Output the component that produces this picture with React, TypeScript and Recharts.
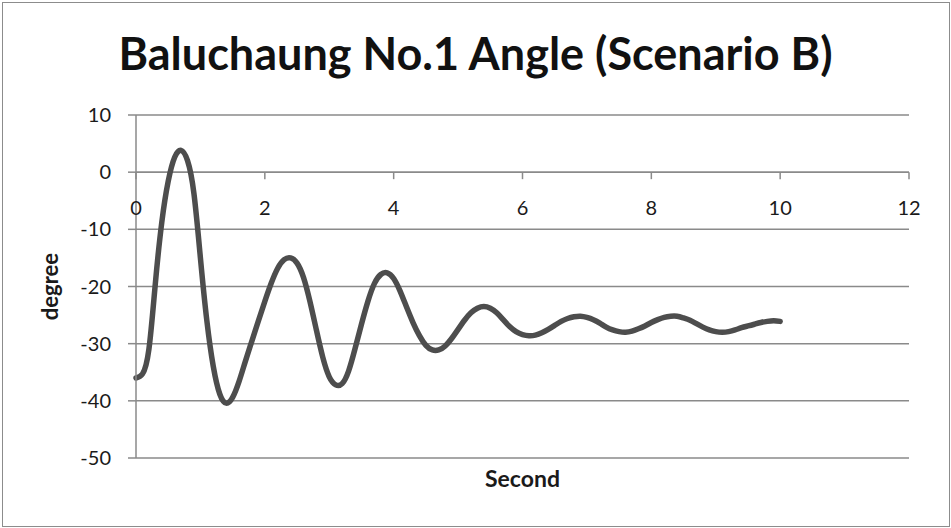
import React from "react";
import {
  LineChart,
  Line,
  XAxis,
  YAxis,
  CartesianGrid,
  ReferenceLine,
  ReferenceDot,
} from "recharts";

// Time in seconds, sampled every 0.1 s
const seconds: number[] = [
  0.0, 0.1, 0.2, 0.3, 0.4, 0.5, 0.6, 0.7, 0.8, 0.9,
  1.0, 1.1, 1.2, 1.3, 1.4, 1.5, 1.6, 1.7, 1.8, 1.9,
  2.0, 2.1, 2.2, 2.3, 2.4, 2.5, 2.6, 2.7, 2.8, 2.9,
  3.0, 3.1, 3.2, 3.3, 3.4, 3.5, 3.6, 3.7, 3.8, 3.9,
  4.0, 4.1, 4.2, 4.3, 4.4, 4.5, 4.6, 4.7, 4.8, 4.9,
  5.0, 5.1, 5.2, 5.3, 5.4, 5.5, 5.6, 5.7, 5.8, 5.9,
  6.0, 6.1, 6.2, 6.3, 6.4, 6.5, 6.6, 6.7, 6.8, 6.9,
  7.0, 7.1, 7.2, 7.3, 7.4, 7.5, 7.6, 7.7, 7.8, 7.9,
  8.0, 8.1, 8.2, 8.3, 8.4, 8.5, 8.6, 8.7, 8.8, 8.9,
  9.0, 9.1, 9.2, 9.3, 9.4, 9.5, 9.6, 9.7, 9.8, 9.9,
  10.0,
];

// Angle in degrees
const angle: number[] = [
  -36.0, -35.3, -31.0, -19.5, -8.8, -1.6, 2.6, 3.8, 2.0, -3.8,
  -15.0, -26.0, -34.0, -38.8, -40.4, -39.4, -36.6, -33.0, -29.5, -26.0,
  -22.6, -19.4, -16.8, -15.3, -15.0, -15.9, -18.4, -22.6, -27.6, -32.4,
  -35.8, -37.2, -37.0, -34.8, -30.9, -26.6, -22.6, -19.5, -17.9, -17.6,
  -18.6, -20.8, -23.6, -26.3, -28.6, -30.3, -31.1, -31.1, -30.4, -29.1,
  -27.5, -25.9, -24.6, -23.8, -23.5, -23.8, -24.6, -25.8, -27.0, -27.9,
  -28.4, -28.6, -28.5, -28.1, -27.5, -26.8, -26.1, -25.6, -25.3, -25.2,
  -25.4, -25.8, -26.4, -27.1, -27.6, -27.9, -28.0, -27.8, -27.4, -26.9,
  -26.3, -25.8, -25.4, -25.2, -25.2, -25.5, -25.9, -26.5, -27.1, -27.6,
  -27.9, -28.0, -27.9, -27.6, -27.2, -26.9, -26.6, -26.3, -26.1, -26.0,
  -26.1,
];

const xTicks: number[] = [0, 2, 4, 6, 8, 10, 12];
const yTicks: number[] = [-50, -40, -30, -20, -10, 0, 10];

const data = seconds.map((t, i) => ({ t, deg: angle[i] }));

const FONT = "Lato, 'Open Sans', sans-serif";
const GRID = "#8a8a8a";
const TEXT = "#1a1a1a";

// Tick mark + label hanging below the zero line of the x axis
const makeXTick = (label: number) => (props: any) => {
  const vb = props.viewBox || {};
  const cx = vb.x + (vb.width || 0) / 2;
  const cy = vb.y + (vb.height || 0) / 2;
  return (
    <g>
      <line x1={cx} y1={cy} x2={cx} y2={cy + 7} stroke={GRID} strokeWidth={1.5} />
      <text
        x={cx}
        y={cy + 43}
        textAnchor="middle"
        fill={TEXT}
        fontSize={20}
        fontFamily={FONT}
      >
        {label}
      </text>
    </g>
  );
};

const YTitle = (props: any) => {
  const vb = props.viewBox || {};
  const cy = vb.y + vb.height / 2;
  return (
    <text
      x={58}
      y={cy}
      transform={`rotate(-90, 58, ${cy})`}
      textAnchor="middle"
      fill={TEXT}
      fontSize={22}
      fontWeight={700}
      fontFamily={FONT}
    >
      degree
    </text>
  );
};

export default function App() {
  return (
    <div
      style={{
        position: "absolute",
        left: 0,
        top: 0,
        width: 951,
        height: 528,
        background: "#fff",
        overflow: "hidden",
      }}
    >
      <div
        style={{
          position: "absolute",
          left: 2,
          top: 2,
          width: 948,
          height: 525,
          border: "1.5px solid #8c8c8c",
          boxSizing: "border-box",
        }}
      />
      <div
        style={{
          position: "absolute",
          left: 0,
          top: 31,
          width: 951,
          textAlign: "center",
          fontFamily: FONT,
          fontWeight: 700,
          fontSize: 45,
          lineHeight: "44px",
          color: "#111",
        }}
      >
        Baluchaung No.1 Angle (Scenario B)
      </div>
      <div style={{ position: "absolute", left: 0, top: 0 }}>
        <LineChart
          width={951}
          height={528}
          data={data}
          margin={{ top: 115, right: 42, bottom: 70, left: 0 }}
        >
          <CartesianGrid
            vertical={false}
            stroke={GRID}
            strokeWidth={1.5}
            horizontalValues={yTicks}
          />
          <XAxis dataKey="t" type="number" domain={[0, 12]} ticks={xTicks} hide />
          <YAxis
            type="number"
            domain={[-50, 10]}
            ticks={yTicks}
            width={136}
            tickSize={8}
            tickMargin={17}
            interval={0}
            axisLine={{ stroke: GRID, strokeWidth: 1.5 }}
            tickLine={{ stroke: GRID, strokeWidth: 1.5 }}
            tick={{ fill: TEXT, fontSize: 20, fontFamily: FONT }}
            label={{ content: YTitle }}
          />
          <ReferenceLine y={0} stroke={GRID} strokeWidth={1.5} />
          <ReferenceLine
            y={-50}
            stroke="none"
            label={{
              value: "Second",
              position: "bottom",
              offset: 13,
              fill: TEXT,
              fontSize: 23,
              fontWeight: 700,
              fontFamily: FONT,
            }}
          />
          {xTicks.map((v) => (
            <ReferenceDot
              key={v}
              x={v}
              y={0}
              r={0}
              fill="none"
              stroke="none"
              label={{ content: makeXTick(v) }}
            />
          ))}
          <Line
            type="natural"
            dataKey="deg"
            stroke="#4d4d4d"
            strokeWidth={5.5}
            dot={false}
            strokeLinecap="round"
            strokeLinejoin="round"
            isAnimationActive={false}
          />
        </LineChart>
      </div>
    </div>
  );
}
